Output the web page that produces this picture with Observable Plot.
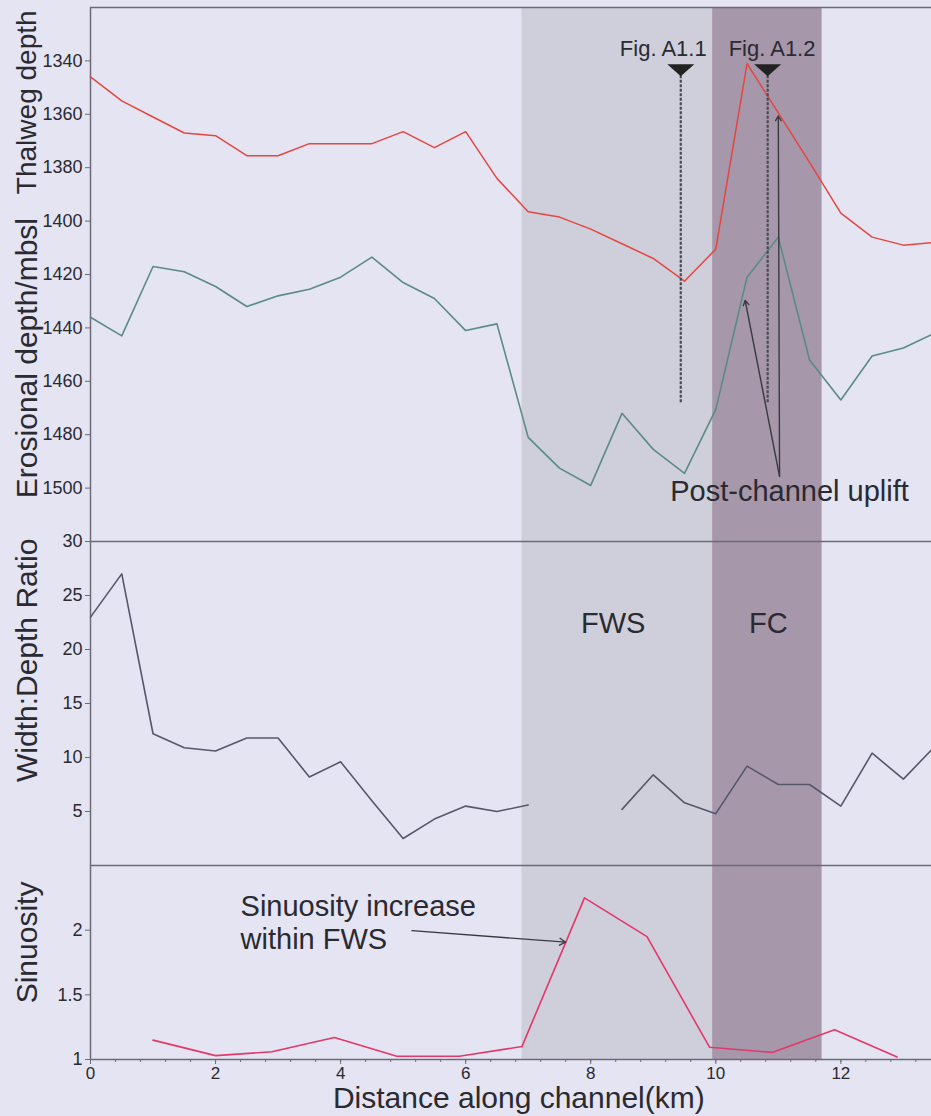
<!DOCTYPE html>
<html><head><meta charset="utf-8">
<script src="https://cdn.jsdelivr.net/npm/d3@7"></script>
<script src="https://cdn.jsdelivr.net/npm/@observablehq/plot@0.6"></script>
<style>
body{margin:0;background:#e4e4f3;}
#chart{width:931px;height:1116px;position:relative;overflow:hidden;font-family:"Liberation Sans",Arial,sans-serif;}
#chart svg{display:block;}
</style></head><body><div id="chart"></div>
<script>
// ---------- data ----------
const distanceKm      = [0,0.5,1,1.5,2,2.5,3,3.5,4,4.5,5,5.5,6,6.5,7,7.5,8,8.5,9,9.5,10,10.5,11,11.5,12,12.5,13,13.5];
const thalwegDepth    = [1346,1355,1361,1367,1368,1375.5,1375.5,1371,1371,1371,1366.5,1372.5,1366.5,1384,1396.5,1398.5,1403,1408.5,1414,1422.5,1410.5,1341,1359.5,1378,1397,1406,1409,1408];
const erosionalDepth  = [1436,1443,1417,1419,1424.5,1432,1428,1425.5,1421,1413.5,1423,1429,1441,1438.5,1481,1492.5,1499,1472,1485.5,1494.5,1470.5,1421,1406,1452,1467,1450.5,1447.5,1442];
const widthDepthRatio = [23,27,12.2,10.9,10.6,11.8,11.8,8.2,9.6,6.0,2.5,4.3,5.5,5.0,5.6,NaN,NaN,5.2,8.4,5.8,4.8,9.2,7.5,7.5,5.5,10.4,8.0,11];
const sinuosityKm     = [1,2,2.9,3.9,4.9,5.9,6.9,7.9,8.9,9.9,10.9,11.9,12.9];
const sinuosityValue  = [1.15,1.03,1.06,1.17,1.025,1.025,1.10,2.25,1.95,1.095,1.055,1.23,1.02];

const zoneName  = ["FWS","FC"];
const zoneStart = [6.9, 9.95];
const zoneEnd   = [9.95, 11.7];

const figName = ["Fig. A1.1","Fig. A1.2"];
const figKm   = [9.44, 10.83];

const depthTicks     = [1340,1360,1380,1400,1420,1440,1460,1480,1500];
const ratioTicks     = [5,10,15,20,25,30];
const sinuosityTicks = [1,1.5,2];
const distanceTicks  = [0,2,4,6,8,10,12];
const minorTicks     = d3.range(0, 13.5, 0.4).map(v => +v.toFixed(1));

// ---------- tables ----------
const profile = distanceKm.map((d,i) => ({km:d, thalweg:thalwegDepth[i], erosional:erosionalDepth[i], ratio:widthDepthRatio[i]}));
const sinu = sinuosityKm.map((d,i) => ({km:d, s:sinuosityValue[i]}));
const zones = zoneName.map((n,i) => ({name:n, start:zoneStart[i], end:zoneEnd[i]}));
const figs = figName.map((n,i) => ({name:n, km:figKm[i]}));

// ---------- styling ----------
const W = 931, ML = 90;
const xDomain = [0, 13.45];
const FONT = '"Liberation Sans", Arial, sans-serif';
const C = {fws:"#cfcfdb", fc:"#a697ab", axis:"#6b6b78", text:"#2a2a30",
  thalweg:"#e4473f", erosional:"#5b8b86", ratio:"#55576a", sinu:"#e2386a", dark:"#3a3a40"};
const baseStyle = {background:"transparent", overflow:"visible", fontFamily:FONT, fontSize:"18px", color:C.text};
const plain = d => String(d);

const bandMarks = () => [
  Plot.rect(zones.filter(z => z.name==="FWS"), {x1:"start", x2:"end", fill:C.fws}),
  Plot.rect(zones.filter(z => z.name==="FC"), {x1:"start", x2:"end", fill:C.fc})
];

const invTri = {draw(ctx, size){
  const r = Math.sqrt(size/Math.PI);
  ctx.moveTo(-r, -0.45*r);
  ctx.lineTo(r, -0.45*r);
  ctx.lineTo(0, 0.45*r);
  ctx.closePath();
}};

const titleOpts = {frameAnchor:"left", dx:-63, rotate:-90, fontSize:30, fill:C.text, textAnchor:"middle", lineAnchor:"middle"};

// ---------- panel 1 : depths ----------
const p1 = Plot.plot({
  width:W, height:541, marginTop:7, marginBottom:0, marginLeft:ML, marginRight:0,
  style:baseStyle,
  x:{domain:xDomain, axis:null},
  y:{domain:[1320,1520], reverse:true},
  marks:[
    ...bandMarks(),
    Plot.ruleY([1320], {stroke:C.axis, strokeWidth:1.5}),
    Plot.ruleX([0], {stroke:C.axis, strokeWidth:1.5}),
    Plot.axisY({ticks:depthTicks, tickFormat:plain, tickSize:5, tickPadding:3, label:null, fontSize:18, stroke:C.axis, fill:C.text}),
    Plot.line(profile, {x:"km", y:"thalweg", stroke:C.thalweg, strokeWidth:1.5}),
    Plot.line(profile, {x:"km", y:"erosional", stroke:C.erosional, strokeWidth:1.6}),
    Plot.ruleX(figs, {x:"km", y1:1345.6, y2:1468, stroke:"#4a4a50", strokeWidth:2.2, strokeDasharray:"3,1.5"}),
    Plot.dot(figs, {x:"km", y:1343.5, symbol:invTri, r:13.5, fill:"#222", stroke:"none"}),
    Plot.text(figs, {x:d => d.name==="Fig. A1.1" ? 9.16 : 10.9, y:1335.6, text:"name", fontSize:22, fill:C.text}),
    Plot.arrow([{x1:11.02,y1:1495.6,x2:10.47,y2:1429.7},{x1:11.02,y1:1495.6,x2:11.0,y2:1360.6}],
      {x1:"x1", y1:"y1", x2:"x2", y2:"y2", stroke:C.dark, strokeWidth:1.4, headLength:6}),
    Plot.text(["Post-channel uplift"], {x:11.18, y:1501.5, fontSize:29, fill:C.text}),
    Plot.text(["Thalweg depth"], {...titleOpts, fontSize:28, y:1355.5}),
    Plot.text(["Erosional depth/mbsl"], {...titleOpts, y:1451.3})
  ]
});

// ---------- panel 2 : width/depth ratio ----------
const p2 = Plot.plot({
  width:W, height:324, marginTop:0, marginBottom:0, marginLeft:ML, marginRight:0,
  style:baseStyle,
  x:{domain:xDomain, axis:null},
  y:{domain:[0,30]},
  marks:[
    ...bandMarks(),
    Plot.ruleY([30], {stroke:C.axis, strokeWidth:1.5}),
    Plot.ruleX([0], {stroke:C.axis, strokeWidth:1.5}),
    Plot.axisY({ticks:ratioTicks, tickFormat:plain, tickSize:5, tickPadding:3, label:null, fontSize:18, stroke:C.axis, fill:C.text}),
    Plot.line(profile, {x:"km", y:"ratio", stroke:C.ratio, strokeWidth:1.6}),
    Plot.text(zones, {x:d => d.name==="FWS" ? 8.36 : 10.84, y:22.4, text:"name", fontSize:29, fill:C.text}),
    Plot.text(["Width:Depth Ratio"], {...titleOpts, y:19.0})
  ]
});

// ---------- panel 3 : sinuosity ----------
const p3 = Plot.plot({
  width:W, height:251, marginTop:0, marginBottom:57, marginLeft:ML, marginRight:0,
  style:baseStyle,
  x:{domain:xDomain},
  y:{domain:[1,2.5]},
  marks:[
    ...bandMarks(),
    Plot.ruleY([2.5], {stroke:C.axis, strokeWidth:1.5}),
    Plot.ruleY([1], {stroke:C.axis, strokeWidth:1.5}),
    Plot.ruleX([0], {stroke:C.axis, strokeWidth:1.5}),
    Plot.axisY({ticks:sinuosityTicks, tickFormat:plain, tickSize:5, tickPadding:3, label:null, fontSize:18, stroke:C.axis, fill:C.text}),
    Plot.axisX({ticks:minorTicks, tickSize:3, tickFormat:() => "", label:null, stroke:C.axis}),
    Plot.axisX({ticks:distanceTicks, tickFormat:plain, tickSize:5, tickPadding:2, label:null, fontSize:17, stroke:C.axis, fill:C.text}),
    Plot.line(sinu, {x:"km", y:"s", stroke:C.sinu, strokeWidth:1.6}),
    Plot.text(["Sinuosity increase\nwithin FWS"], {x:2.4, y:2.288, textAnchor:"start", lineAnchor:"top", lineHeight:1.13, fontSize:29, fill:C.text}),
    Plot.arrow([{x1:5.14,y1:1.997,x2:7.6,y2:1.907}], {x1:"x1", y1:"y1", x2:"x2", y2:"y2", stroke:C.dark, strokeWidth:1.3, headLength:8}),
    Plot.text(["Sinuosity"], {...titleOpts, y:1.905}),
    Plot.text(["Distance along channel(km)"], {frameAnchor:"bottom", x:6.85, dy:38.5, fontSize:30, fill:C.text, lineAnchor:"middle"})
  ]
});

const root = document.getElementById("chart");
root.append(p1, p2, p3);
</script>
</body></html>
